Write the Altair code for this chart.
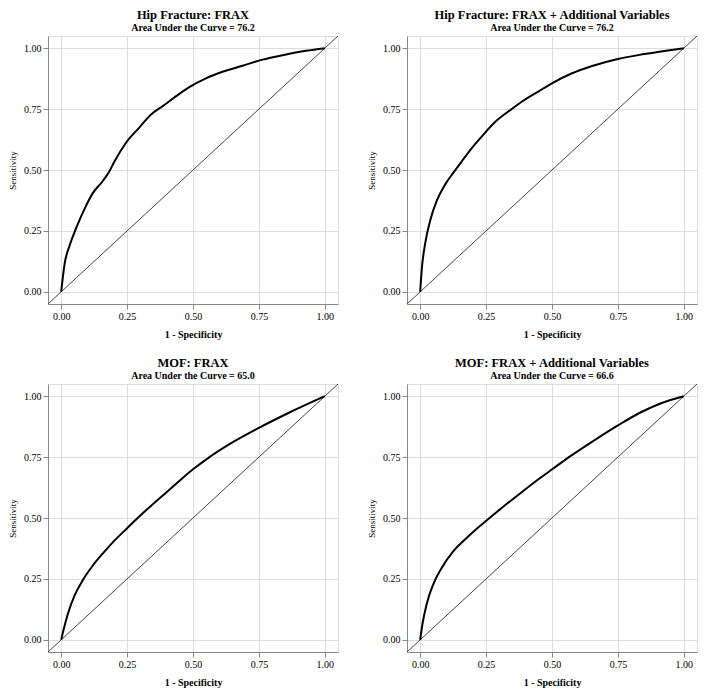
import altair as alt
import pandas as pd

FONT = "Liberation Serif"

titles = [
    "Hip Fracture: FRAX",
    "Hip Fracture: FRAX + Additional Variables",
    "MOF: FRAX",
    "MOF: FRAX + Additional Variables",
]
aucs = ["76.2", "76.2", "65.0", "66.6"]

# ROC curves (1 - specificity, sensitivity)
fpr_1 = [0, 0.013, 0.032, 0.057, 0.095, 0.12, 0.158, 0.183, 0.202, 0.246, 0.297, 0.341, 0.385, 0.436, 0.486, 0.549, 0.612, 0.688, 0.764, 0.840, 0.928, 1.0]
tpr_1 = [0, 0.115, 0.19, 0.262, 0.355, 0.405, 0.455, 0.495, 0.535, 0.612, 0.675, 0.728, 0.762, 0.803, 0.840, 0.876, 0.903, 0.928, 0.953, 0.971, 0.989, 1.0]

fpr_2 = [0, 0.006, 0.019, 0.038, 0.063, 0.095, 0.126, 0.158, 0.195, 0.233, 0.284, 0.347, 0.385, 0.448, 0.498, 0.574, 0.649, 0.750, 0.851, 1.0]
tpr_2 = [0, 0.092, 0.199, 0.293, 0.374, 0.441, 0.489, 0.536, 0.589, 0.637, 0.697, 0.750, 0.780, 0.822, 0.855, 0.896, 0.926, 0.956, 0.976, 1.0]

fpr_3 = [0, 0.01, 0.025, 0.05, 0.082, 0.12, 0.16, 0.20, 0.25, 0.29, 0.35, 0.42, 0.50, 0.556, 0.64, 0.75, 0.86, 1.0]
tpr_3 = [0, 0.045, 0.105, 0.18, 0.245, 0.305, 0.357, 0.405, 0.458, 0.50, 0.559, 0.625, 0.70, 0.745, 0.804, 0.87, 0.93, 1.0]

fpr_4 = [0, 0.009, 0.025, 0.050, 0.082, 0.126, 0.170, 0.221, 0.252, 0.309, 0.385, 0.460, 0.502, 0.574, 0.662, 0.750, 0.839, 0.914, 1.0]
tpr_4 = [0, 0.067, 0.148, 0.229, 0.296, 0.364, 0.412, 0.462, 0.490, 0.541, 0.606, 0.668, 0.701, 0.757, 0.820, 0.880, 0.935, 0.971, 1.0]

curves = [(fpr_1, tpr_1), (fpr_2, tpr_2), (fpr_3, tpr_3), (fpr_4, tpr_4)]
diag_vals = [-0.05, 1.05]
tick_vals = [0, 0.25, 0.5, 0.75, 1.0]

W, H = 290, 268
dom = [-0.05, 1.05]


def panel(i):
    fx, ty = curves[i]
    df = pd.DataFrame({"fpr": fx, "tpr": ty, "k": list(range(len(fx)))})
    dd = pd.DataFrame({"fpr": diag_vals, "tpr": diag_vals})
    xs = alt.X("fpr:Q", scale=alt.Scale(domain=dom, nice=False, zero=False),
               axis=alt.Axis(values=tick_vals, format=".2f", title="1 - Specificity",
                             labelFont=FONT, titleFont=FONT, labelFontSize=10,
                             titleFontWeight="bold", titleFontSize=10, titlePadding=8))
    ys = alt.Y("tpr:Q", scale=alt.Scale(domain=dom, nice=False, zero=False),
               axis=alt.Axis(values=tick_vals, format=".2f", title="Sensitivity",
                             labelFont=FONT, titleFont=FONT, labelFontSize=10,
                             titleFontWeight="normal", titleFontSize=9, titlePadding=6))
    diag = alt.Chart(dd).mark_line(color="#444444", strokeWidth=1, clip=True).encode(x=xs, y=ys)
    roc = alt.Chart(df).mark_line(color="black", strokeWidth=2, clip=True,
                                  interpolate="monotone").encode(
        x="fpr:Q", y="tpr:Q", order="k:Q")
    return alt.layer(diag, roc).properties(
        width=W, height=H,
        title=alt.TitleParams(titles[i], subtitle=f"Area Under the Curve = {aucs[i]}",
                              font=FONT, fontSize=12.5, fontWeight="bold",
                              subtitleFont=FONT, subtitleFontSize=10,
                              subtitleFontWeight="bold", subtitlePadding=2,
                              anchor="middle", offset=3, color="black",
                              subtitleColor="black"),
    )


top = alt.hconcat(panel(0), panel(1), spacing=28)
bottom = alt.hconcat(panel(2), panel(3), spacing=28)
chart = alt.vconcat(top, bottom, spacing=16).properties(
    padding={"left": 0, "top": 0, "right": 2, "bottom": 0}
).configure_view(
    stroke="black", strokeWidth=1.6
).configure_axis(
    labelFont=FONT, titleFont=FONT, labelColor="black",
    titleColor="black", domain=False, tickColor="black", tickSize=5,
    tickWidth=1, labelPadding=3, gridColor="#dcdcdc", gridWidth=1,
).configure_title(font=FONT, subtitleFont=FONT).configure(background="white")

chart.save("out.html", embed_options={"renderer": "svg", "actions": False})
